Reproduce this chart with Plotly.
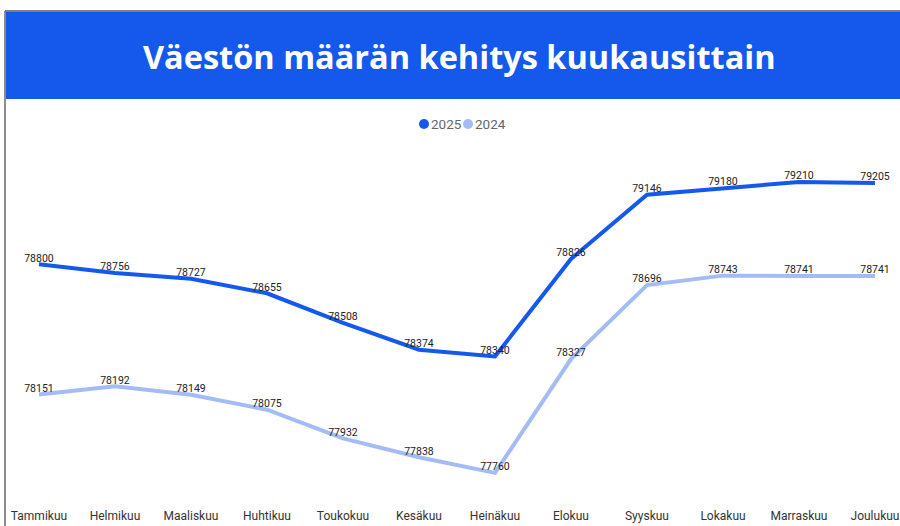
import plotly.graph_objects as go

months = ["Tammikuu", "Helmikuu", "Maaliskuu", "Huhtikuu", "Toukokuu", "Kesäkuu",
          "Heinäkuu", "Elokuu", "Syyskuu", "Lokakuu", "Marraskuu", "Joulukuu"]
v2025 = [78800, 78756, 78727, 78655, 78508, 78374, 78340, 78826, 79146, 79180, 79210, 79205]
v2024 = [78151, 78192, 78149, 78075, 77932, 77838, 77760, 78327, 78696, 78743, 78741, 78741]
series_names = ["2025", "2024"]

C25 = "#1459eb"
C24 = "#a3bcf5"
W, H = 900, 526

fig = go.Figure()
for name, vals, col in [(series_names[0], v2025, C25), (series_names[1], v2024, C24)]:
    fig.add_trace(go.Scatter(
        x=months, y=vals, mode="lines+text", name=name,
        line=dict(color=col, width=4),
        text=[str(v) for v in vals], textposition="top center",
        textfont=dict(family="Roboto", size=10.5, color="#222222"),
        showlegend=False, hoverinfo="skip"))

def px(x):
    return x / W

def py(y):
    return (H - y) / H

shapes = [
    dict(type="rect", xref="paper", yref="paper", x0=px(6), x1=px(900), y0=py(99), y1=py(12),
         fillcolor=C25, line=dict(width=0), layer="below"),
    dict(type="line", xref="paper", yref="paper", x0=px(5), x1=px(900), y0=py(11), y1=py(11),
         line=dict(color="#555555", width=1.5)),
    dict(type="line", xref="paper", yref="paper", x0=px(5), x1=px(5), y0=py(11), y1=py(526),
         line=dict(color="#666666", width=1.5)),
]

# legend: dots + labels
legend_items = [(series_names[0], C25, 424), (series_names[1], C24, 468)]
annotations = [
    dict(text="<b>Väestön määrän kehitys kuukausittain</b>", xref="paper", yref="paper",
         x=px(460), y=py(57), xanchor="center", yanchor="middle", showarrow=False,
         font=dict(family="Open Sans", size=32.5, color="white")),
]
for name, col, cx in legend_items:
    shapes.append(dict(type="circle", xref="paper", yref="paper",
                       x0=px(cx - 5), x1=px(cx + 5), y0=py(129), y1=py(119),
                       fillcolor=col, line=dict(width=0)))
    annotations.append(dict(text=name, xref="paper", yref="paper",
                            x=px(cx + 5), y=py(124), xanchor="left", yanchor="middle",
                            showarrow=False,
                            font=dict(family="Roboto", size=13.5, color="#666666")))

fig.update_layout(
    width=W, height=H,
    margin=dict(l=0, r=0, t=0, b=0, autoexpand=False),
    paper_bgcolor="white", plot_bgcolor="white",
    shapes=shapes,
    showlegend=False,
    annotations=annotations,
    xaxis=dict(domain=[px(6), 1], range=[-0.434, 11.329], showgrid=False, zeroline=False,
               showline=False, ticks="", tickfont=dict(family="Roboto", size=12, color="#333333"),
               automargin=False),
    yaxis=dict(domain=[py(507), py(140)], range=[77590, 79419], showgrid=False, zeroline=False,
               showticklabels=False, showline=False, automargin=False),
)

fig.write_html("out.html", config={"displayModeBar": False},
               post_script="document.body.style.margin='0px';document.body.style.overflow='hidden';")
